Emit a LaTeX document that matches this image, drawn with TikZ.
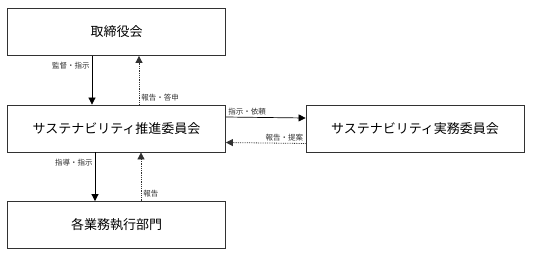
\documentclass[tikz,border=0pt]{standalone}
\usepackage{fontspec}
\setmainfont{Noto Sans CJK JP}
\usetikzlibrary{arrows.meta}
\definecolor{lineGray}{RGB}{50, 50, 50}

\tikzset{
  orgbox/.style={draw=lineGray, line width=0.8pt, minimum width=218pt, minimum height=47pt,
    inner sep=0pt, font=\fontsize{13}{15}\selectfont},
  order/.style={-{Triangle[length=7pt,width=7pt]}, line width=0.7pt},
  report/.style={-{Triangle[length=7pt,width=7pt]}, densely dotted, line width=0.8pt, draw=lineGray},
  lbl/.style={font=\fontsize{7.5}{9}\selectfont, text=lineGray, inner sep=2pt}
}

\begin{document}
\begin{tikzpicture}[x=1pt, y=-1pt]
  \useasboundingbox (0,0) rectangle (533,258);

  % Boxes
  \node[orgbox] (board) at (116.5, 32) {取締役会};
  \node[orgbox] (promo) at (116.5, 128.5) {サステナビリティ推進委員会};
  \node[orgbox] (dept) at (116.5, 225) {各業務執行部門};
  \node[orgbox] (jitsumu) at (415, 129) {サステナビリティ実務委員会};

  % Board <-> promotion committee
  \draw[order] ([xshift=-24.5pt]board.south) -- ([xshift=-24.5pt]promo.north)
    node[lbl, pos=0.2, left] {監督・指示};
  \draw[report] ([xshift=22.5pt]promo.north) -- ([xshift=22.5pt]board.south)
    node[lbl, pos=0.15, right] {報告・答申};

  % Promotion committee <-> departments
  \draw[order] ([xshift=-21.5pt]promo.south) -- ([xshift=-21.5pt]dept.north)
    node[lbl, pos=0.2, left] {指導・指示};
  \draw[report] ([xshift=24.5pt]dept.north) -- ([xshift=24.5pt]promo.south)
    node[lbl, pos=0.15, right] {報告};

  % Promotion committee <-> working committee
  \draw[order] ([yshift=11.5pt]promo.east) -- ([yshift=11pt]jitsumu.west)
    node[lbl, pos=0, anchor=south west] {指示・依頼};
  \draw[report] ([yshift=-14.5pt]jitsumu.west) -- ([yshift=-14pt]promo.east)
    node[lbl, pos=0, anchor=south east] {報告・提案};
\end{tikzpicture}
\end{document}
